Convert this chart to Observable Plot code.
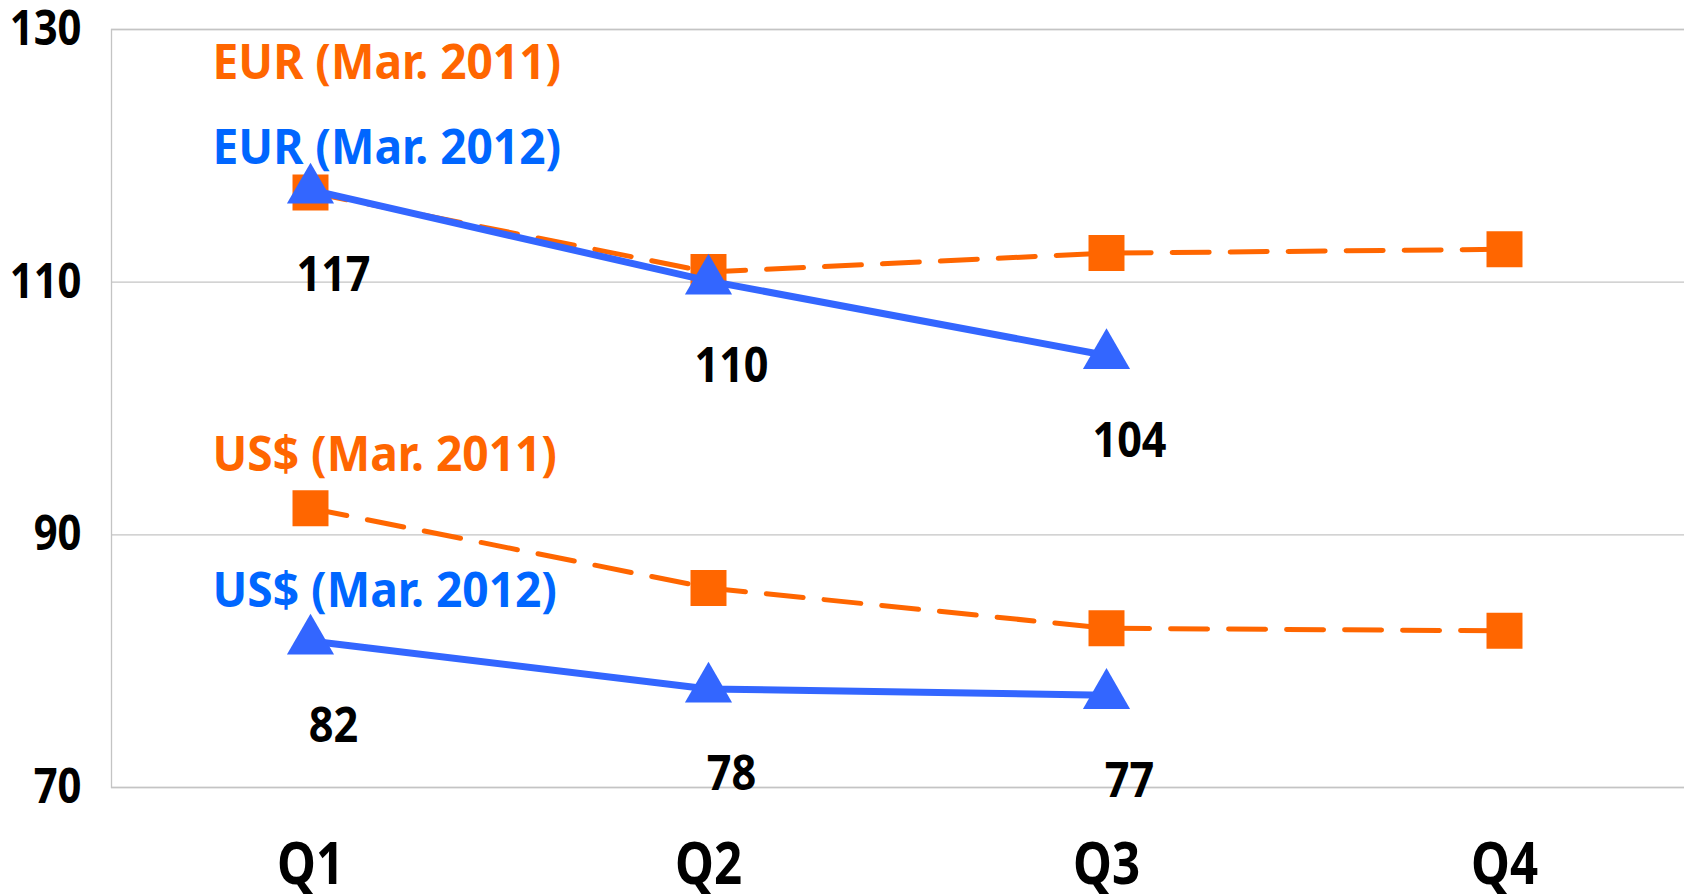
<!DOCTYPE html>
<html><head><meta charset="utf-8">
<script src="https://cdn.jsdelivr.net/npm/d3@7"></script>
<script src="https://cdn.jsdelivr.net/npm/@observablehq/plot@0.6"></script>
<style>
html,body{margin:0;padding:0;background:#fff;overflow:hidden;}
#chart svg{display:block;overflow:hidden;}
#chart svg text{font-stretch:condensed;}
</style></head><body><div id="chart"></div>
<script>
const quarters = ["Q1", "Q2", "Q3", "Q4"];
const eur2011 = [117.1, 110.8, 112.3, 112.6];
const eur2012 = [117.3, 110.1, 104.2];
const usd2011 = [92.1, 85.8, 82.6, 82.4];
const usd2012 = [81.6, 77.8, 77.3];
const seriesNames = ["EUR (Mar. 2011)", "EUR (Mar. 2012)", "US$ (Mar. 2011)", "US$ (Mar. 2012)"];
const seriesLabelValues = [127.3, 120.6, 96.3, 85.5];
const yTicks = [70, 90, 110, 130];

const ORANGE = "#FF6600", BLUE_LINE = "#3366FF", BLUE_TEXT = "#0066FF";
const FONT = "'Noto Sans', 'DejaVu Sans', sans-serif";

const toRows = (vals) => vals.map((v, i) => ({q: quarters[i], v}));
const rEur11 = toRows(eur2011), rEur12 = toRows(eur2012);
const rUsd11 = toRows(usd2011), rUsd12 = toRows(usd2012);
const labelRows = seriesNames.map((name, i) => ({name, q: quarters[0], v: seriesLabelValues[i], year: name.includes("2011") ? 2011 : 2012}));

const dashed = {x: "q", y: "v", stroke: ORANGE, strokeWidth: 5, strokeDasharray: "37,21"};
const solid = {x: "q", y: "v", stroke: BLUE_LINE, strokeWidth: 7};
const sq = {x: "q", y: "v", symbol: "square", r: 20.3, fill: ORANGE, stroke: null};
const tri = {x: "q", y: "v", symbol: "triangle", r: 17.5, fill: BLUE_LINE, stroke: null};
const labelStyle = {x: "q", y: "v", text: "name", dx: -98, textAnchor: "start", fontSize: 48, fontWeight: "bold", ariaLabel: () => "series label"};

const chart = Plot.plot({
  width: 1684, height: 895,
  marginLeft: 111, marginRight: -19, marginTop: 29, marginBottom: 108,
  style: {fontFamily: FONT, fontWeight: "bold", fontStretch: "condensed", background: "#fff"},
  x: {type: "point", domain: quarters, padding: 0.5, axis: null},
  y: {domain: [70, 130], axis: null},
  marks: [
    Plot.gridY(yTicks, {stroke: "#c4c4c4", strokeOpacity: 1, strokeWidth: 1.3}),
    Plot.frame({stroke: "#c4c4c4", strokeWidth: 1.3}),
    Plot.text(yTicks, {y: d => d, text: d => String(d), frameAnchor: "left", dx: -30, textAnchor: "end", fontSize: 48, fontWeight: "bold", fill: "#000", ariaLabel: () => "y tick label"}),
    Plot.text(quarters, {x: d => d, text: d => d, frameAnchor: "bottom", lineAnchor: "top", dy: 54, fontSize: 60, fontWeight: "bold", fill: "#000", ariaLabel: () => "x tick label"}),
    Plot.line(rEur11, dashed),
    Plot.line(rUsd11, dashed),
    Plot.dot(rEur11, sq),
    Plot.dot(rUsd11, sq),
    Plot.line(rEur12, solid),
    Plot.line(rUsd12, solid),
    Plot.dot(rEur12, tri),
    Plot.dot(rUsd12, tri),
    Plot.text([...rEur12, ...rUsd12], {x: "q", y: "v", text: d => String(Math.round(d.v)), dx: 23, dy: 86, fontSize: 48, fontWeight: "bold", fill: "#000", ariaLabel: () => "value label"}),
    Plot.text(labelRows.filter(d => d.year === 2011), {...labelStyle, fill: ORANGE}),
    Plot.text(labelRows.filter(d => d.year === 2012), {...labelStyle, fill: BLUE_TEXT})
  ]
});
document.getElementById("chart").appendChild(chart);

// Emulate the narrow gothic face of the original by compressing each text's glyphs (anchors unchanged).
const squeezeBy = {"y tick label": 0.87, "x tick label": 0.82, "value label": 0.9, "series label": 0.96};
chart.querySelectorAll("text").forEach(t => {
  const s = squeezeBy[t.getAttribute("aria-label")];
  if (!s) return;
  const len = t.getComputedTextLength();
  if (len > 0) {
    t.setAttribute("textLength", (len * s).toFixed(1));
    t.setAttribute("lengthAdjust", "spacingAndGlyphs");
  }
});
</script></body></html>
